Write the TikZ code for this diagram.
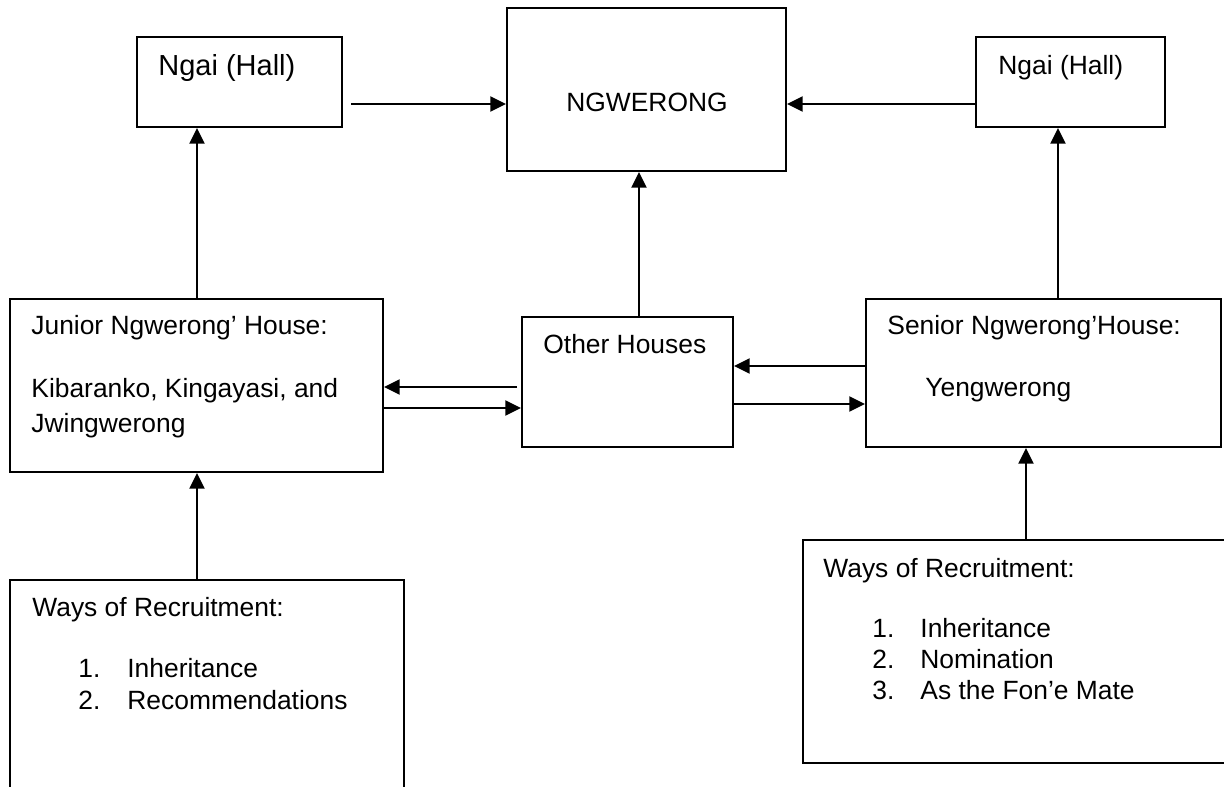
\documentclass[tikz,border=0pt]{standalone}
\usepackage{fontspec}
\setmainfont{Liberation Sans}
\usetikzlibrary{arrows.meta,fit}
\begin{document}
\begin{tikzpicture}[x=0.5pt,y=-0.5pt,
  box/.style={draw, line width=1pt, inner sep=0pt},
  arr/.style={line width=1.3pt, -{Triangle[length=7.8pt,width=7.4pt]}},
  lbl/.style={anchor=base west, inner sep=0pt, font=\fontsize{13.2}{15.5}\selectfont},
  biglbl/.style={lbl, font=\fontsize{14.5}{17}\selectfont},
]
\useasboundingbox (0,0) rectangle (1224,786);
\fill[white] (0,0) rectangle (1224,786);
\clip (0,0) rectangle (1224,786);

% boxes
\node[box, fit={(137,37) (342,127)}] (ngaiL) {};
\node[box, fit={(507,8) (786,171)}] (ngw) {};
\node[box, fit={(976,37) (1165,127)}] (ngaiR) {};
\node[box, fit={(10,299) (383,472)}] (junior) {};
\node[box, fit={(522,317) (733,447)}] (other) {};
\node[box, fit={(866,299) (1221,447)}] (senior) {};
\node[box, fit={(10,580) (404,830)}] (waysL) {};
\node[box, fit={(803,540) (1260,763)}] (waysR) {};

% texts
\node[biglbl] (tNgaiL) at (158,76) {Ngai (Hall)};
\node[lbl, anchor=base] (tNgw) at (647,112) {NGWERONG};
\node[lbl] (tNgaiR) at (998,75) {Ngai (Hall)};
\node[lbl] (tJun1) at (31,334) {Junior Ngwerong’ House:};
\node[lbl] (tJun2) at (31,397) {Kibaranko, Kingayasi, and};
\node[lbl] (tJun3) at (31,432) {Jwingwerong};
\node[lbl] (tOther) at (543,353) {Other Houses};
\node[lbl] (tSen1) at (887,334) {Senior Ngwerong’House:};
\node[lbl] (tSen2) at (925,396) {Yengwerong};
\node[lbl] (tWL) at (32,616) {Ways of Recruitment:};
\node[lbl] (tWL1n) at (78,677) {1.};
\node[lbl] (tWL1) at (127,677) {Inheritance};
\node[lbl] (tWL2n) at (78,709) {2.};
\node[lbl] (tWL2) at (127,709) {Recommendations};
\node[lbl] (tWR) at (823,577) {Ways of Recruitment:};
\node[lbl] (tWR1n) at (872,637) {1.};
\node[lbl] (tWR1) at (920,637) {Inheritance};
\node[lbl] (tWR2n) at (872,668) {2.};
\node[lbl] (tWR2) at (920,668) {Nomination};
\node[lbl] (tWR3n) at (872,699) {3.};
\node[lbl] (tWR3) at (920,699) {As the Fon’e Mate};

% connectors
\coordinate (s1) at (351,104);
\draw[arr] (s1) -- (s1 -| ngw.west);
\draw[arr] (s1 -| ngaiR.west) -- (s1 -| ngw.east);
\coordinate (cL) at (197,0);
\draw[arr] (junior.north -| cL) -- (ngaiL.south -| cL);
\draw[arr] (waysL.north -| cL) -- (junior.south -| cL);
\coordinate (cM) at (639,0);
\draw[arr] (other.north -| cM) -- (ngw.south -| cM);
\coordinate (cR) at (1058,0);
\draw[arr] (senior.north -| cR) -- (ngaiR.south -| cR);
\coordinate (cR2) at (1026,0);
\draw[arr] (waysR.north -| cR2) -- (senior.south -| cR2);
\coordinate (h1) at (517,387);
\draw[arr] (h1) -- (h1 -| junior.east);
\coordinate (h2) at (0,408);
\draw[arr] (h2 -| junior.east) -- (h2 -| other.west);
\coordinate (h3) at (0,366);
\draw[arr] (h3 -| senior.west) -- (h3 -| other.east);
\coordinate (h4) at (0,404);
\draw[arr] (h4 -| other.east) -- (h4 -| senior.west);
\end{tikzpicture}
\end{document}
